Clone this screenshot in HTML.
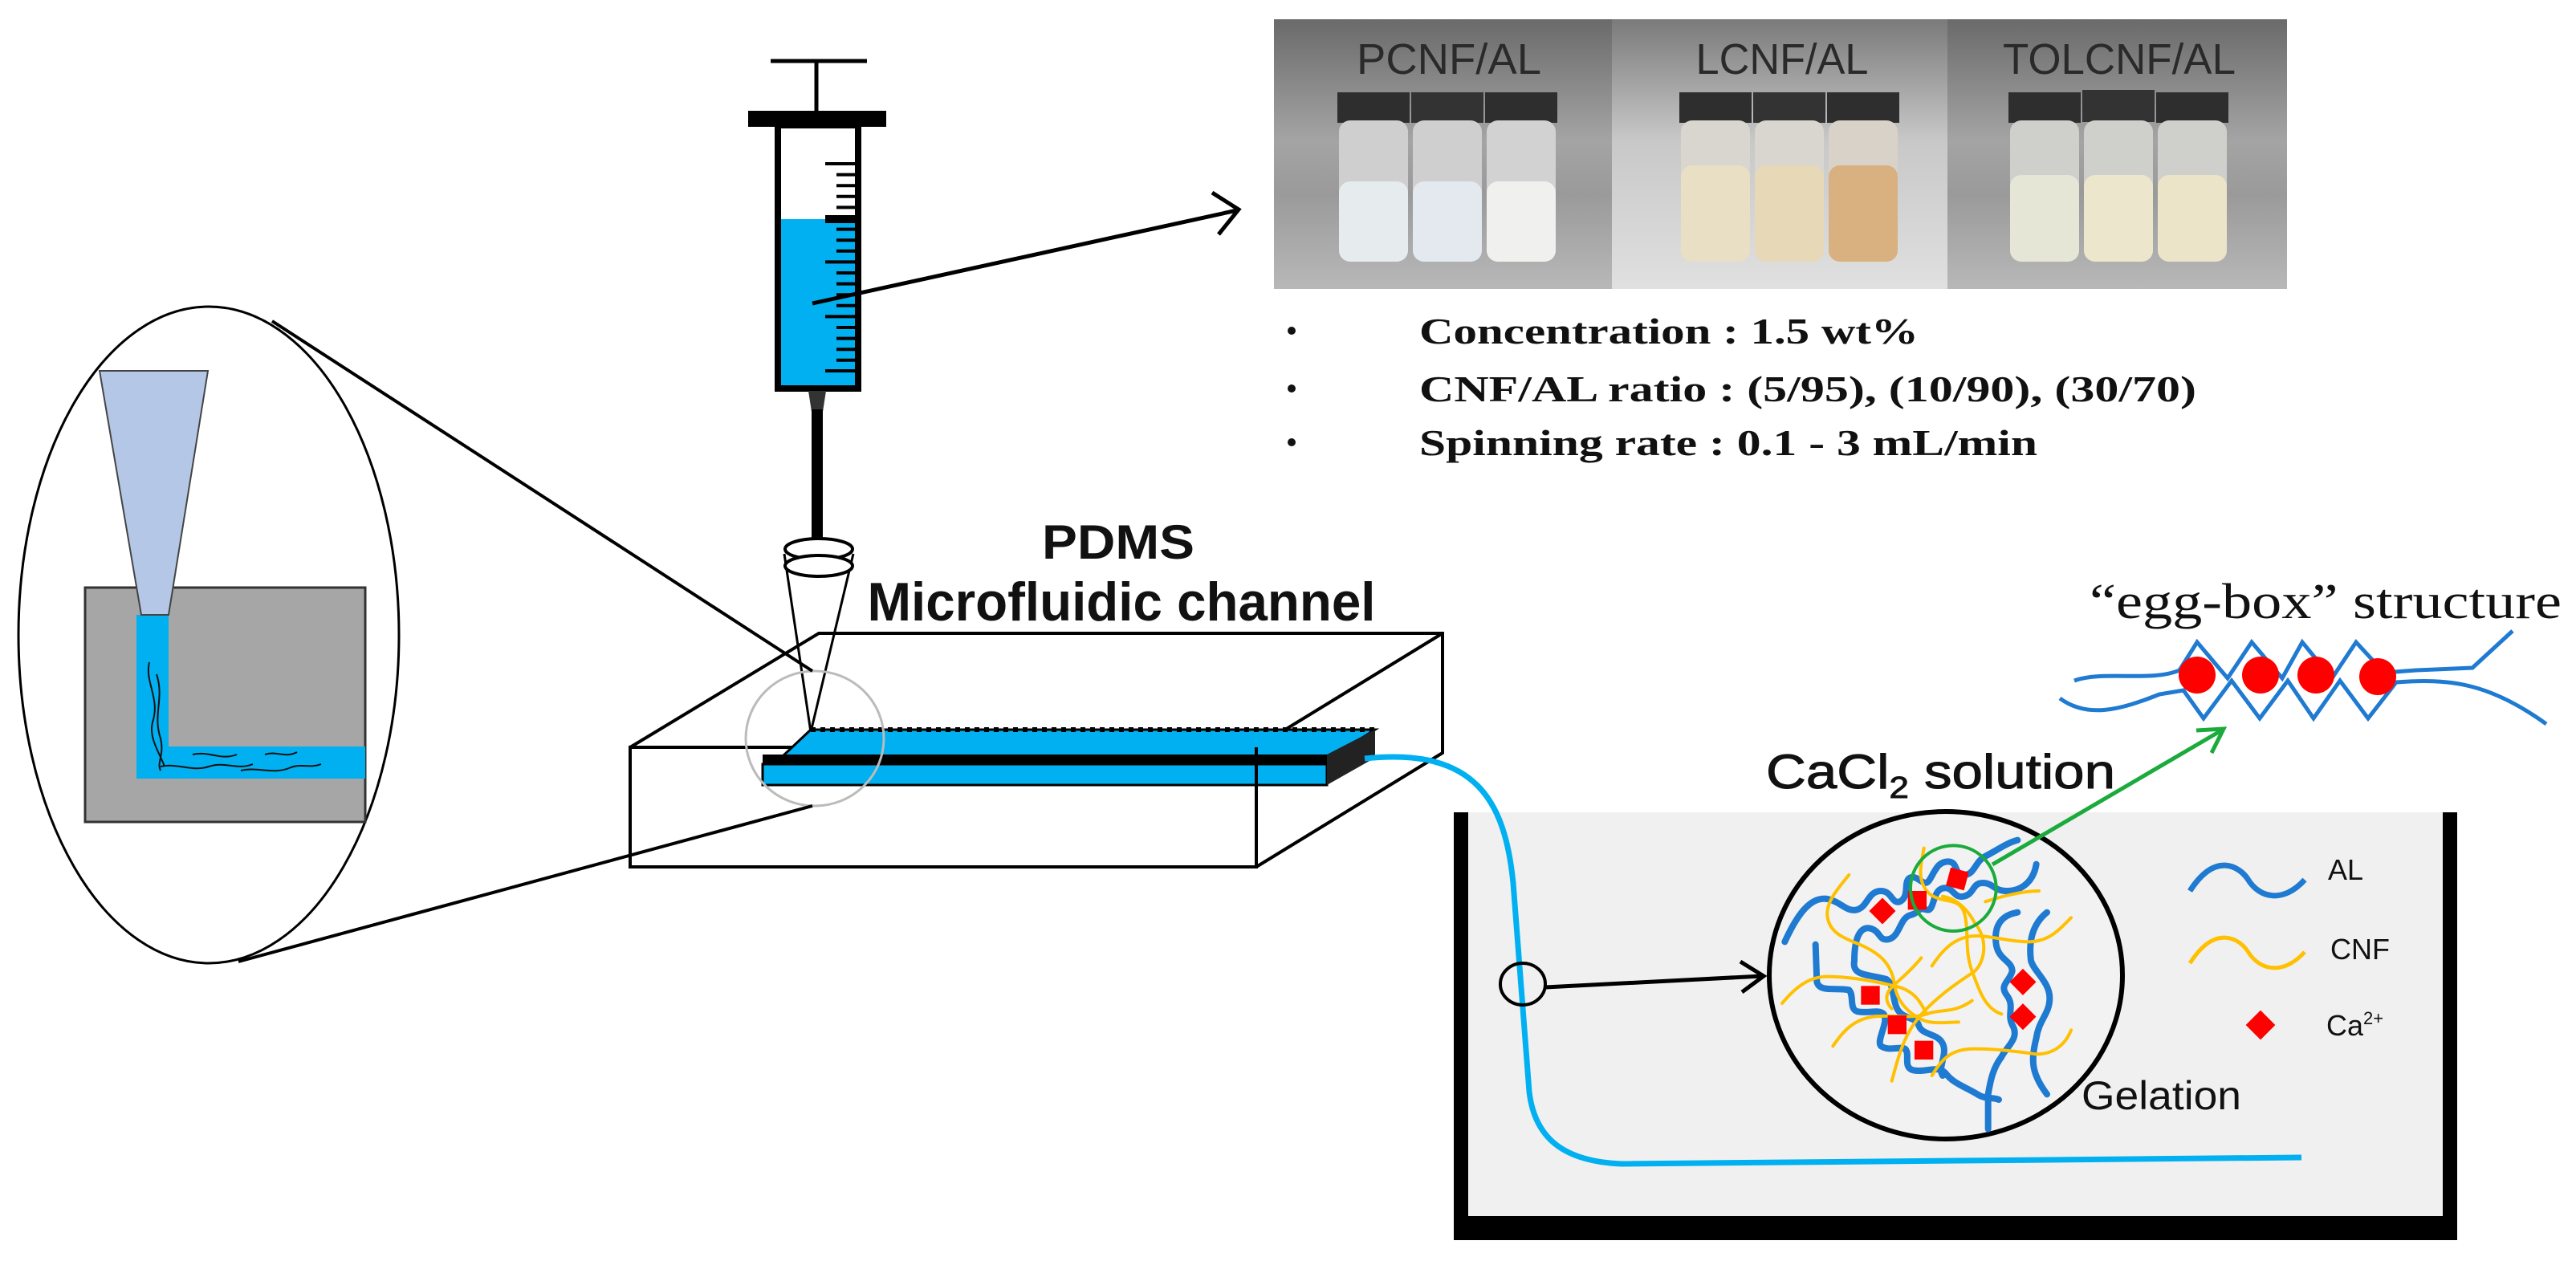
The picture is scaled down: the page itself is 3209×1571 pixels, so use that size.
<!DOCTYPE html>
<html><head><meta charset="utf-8"><style>
html,body{margin:0;padding:0;background:#fff;}
svg{display:block;}
</style></head><body>
<svg width="3209" height="1571" viewBox="0 0 3209 1571" xmlns="http://www.w3.org/2000/svg">
<defs>
<linearGradient id="bg" x1="0" y1="0" x2="0" y2="1">
<stop offset="0" stop-color="#6a6a6a"/><stop offset="0.45" stop-color="#a4a4a4"/><stop offset="0.65" stop-color="#9a9a9a"/><stop offset="1" stop-color="#b8b8b8"/>
</linearGradient>
<linearGradient id="bg2" x1="0" y1="0" x2="0" y2="1">
<stop offset="0" stop-color="#7a7a7a"/><stop offset="0.45" stop-color="#c8c8c8"/><stop offset="1" stop-color="#e0e0e0"/>
</linearGradient>
</defs>

<!-- photo -->
<rect x="1587" y="24" width="421" height="336" fill="url(#bg)"/>
<rect x="2008" y="24" width="418" height="336" fill="url(#bg2)"/>
<rect x="2426" y="24" width="423" height="336" fill="url(#bg)"/>
<g font-family="Liberation Sans Narrow, Liberation Sans, sans-serif" font-size="54" fill="#2a2a2a" text-anchor="middle">
<text x="1805" y="92" textLength="230" lengthAdjust="spacingAndGlyphs">PCNF/AL</text>
<text x="2220" y="92" textLength="215" lengthAdjust="spacingAndGlyphs">LCNF/AL</text>
<text x="2640" y="92" textLength="290" lengthAdjust="spacingAndGlyphs">TOLCNF/AL</text>
</g>
<g>
<rect x="1666" y="115" width="90" height="38" fill="#2e2e2e"/><rect x="1758" y="115" width="90" height="38" fill="#333"/><rect x="1850" y="115" width="90" height="38" fill="#2e2e2e"/>
<rect x="1668" y="150" width="86" height="176" rx="14" fill="#cfcfcf"/><rect x="1760" y="150" width="86" height="176" rx="14" fill="#cfcfcf"/><rect x="1852" y="150" width="86" height="176" rx="14" fill="#d2d2d2"/>
<rect x="1668" y="226" width="86" height="100" rx="14" fill="#e6ebee"/><rect x="1760" y="226" width="86" height="100" rx="14" fill="#e3e9ee"/><rect x="1852" y="226" width="86" height="100" rx="14" fill="#f0f0ee"/>
<rect x="2092" y="115" width="90" height="38" fill="#2e2e2e"/><rect x="2184" y="115" width="90" height="38" fill="#333"/><rect x="2276" y="115" width="90" height="38" fill="#2e2e2e"/>
<rect x="2094" y="150" width="86" height="176" rx="14" fill="#d8d6cf"/><rect x="2186" y="150" width="86" height="176" rx="14" fill="#d8d6cf"/><rect x="2278" y="150" width="86" height="176" rx="14" fill="#d8d2c8"/>
<rect x="2094" y="206" width="86" height="120" rx="14" fill="#e9dfc4"/><rect x="2186" y="206" width="86" height="120" rx="14" fill="#e7d9b8"/><rect x="2278" y="206" width="86" height="120" rx="14" fill="#d9b080"/>
<rect x="2502" y="115" width="90" height="38" fill="#2e2e2e"/><rect x="2594" y="112" width="90" height="40" fill="#333"/><rect x="2686" y="115" width="90" height="38" fill="#2e2e2e"/>
<rect x="2504" y="150" width="86" height="176" rx="14" fill="#cfcfcc"/><rect x="2596" y="150" width="86" height="176" rx="14" fill="#cfcfcc"/><rect x="2688" y="150" width="86" height="176" rx="14" fill="#cfcfcc"/>
<rect x="2504" y="218" width="86" height="108" rx="14" fill="#e6e6d6"/><rect x="2596" y="218" width="86" height="108" rx="14" fill="#ece6cc"/><rect x="2688" y="218" width="86" height="108" rx="14" fill="#ebe4c8"/>
</g>

<!-- bullets -->
<g font-family="Liberation Serif, serif" font-weight="bold" font-size="46" fill="#111">
<circle cx="1609" cy="412" r="5"/><circle cx="1609" cy="484" r="5"/><circle cx="1609" cy="551" r="5"/>
<text x="1768" y="428" textLength="622" lengthAdjust="spacingAndGlyphs">Concentration : 1.5 wt%</text>
<text x="1768" y="500" textLength="968" lengthAdjust="spacingAndGlyphs">CNF/AL ratio : (5/95), (10/90), (30/70)</text>
<text x="1768" y="567" textLength="770" lengthAdjust="spacingAndGlyphs">Spinning rate : 0.1 - 3 mL/min</text>
</g>

<!-- syringe -->
<g stroke="#000" fill="none">
<line x1="960" y1="76" x2="1080" y2="76" stroke-width="5"/>
<line x1="1017" y1="76" x2="1017" y2="140" stroke-width="5"/>
<rect x="932" y="138" width="172" height="20" fill="#000" stroke="none"/>
<rect x="969" y="273" width="100" height="211" fill="#00b0f0" stroke="none"/>
<rect x="969" y="156" width="100" height="328" stroke-width="8"/>
<rect x="1028" y="268" width="38" height="10" fill="#000" stroke="none"/>
<path d="M1066 204h-38M1066 217.6h-24M1066 231.2h-24M1066 244.8h-24M1066 258.4h-24M1066 285.6h-24M1066 299.2h-24M1066 312.8h-24M1066 326.4h-38M1066 340h-24M1066 353.6h-24M1066 367.2h-24M1066 380.8h-24M1066 394.4h-38M1066 408h-24M1066 421.6h-24M1066 435.2h-24M1066 448.8h-24M1066 462h-38" stroke-width="4"/>
<path d="M1007 487 L1011 513 L1025 513 L1029 487Z" fill="#333" stroke="none"/>
<line x1="1018" y1="510" x2="1018" y2="672" stroke-width="14"/>
<path d="M977 690 L1010 912 L1063 690" stroke-width="3"/>
<ellipse cx="1020" cy="684" rx="42" ry="13" fill="#fff" stroke-width="4"/>
<ellipse cx="1020" cy="705" rx="42" ry="13" fill="#fff" stroke-width="4"/>
<line x1="1012" y1="378" x2="1541" y2="262" stroke-width="5"/>
<path d="M1510 240 L1543 261 L1518 292" stroke-width="5"/>
</g>

<!-- chip -->
<g stroke="#000" stroke-width="4" fill="none">
<path d="M785 931 L1020 789 L1797 789 L1797 938 L1565 1080"/>
<path d="M1565 931 L1797 789"/>
<rect x="785" y="931" width="780" height="149"/>
</g>
<!-- channel -->
<path d="M1010 909 L1713 909 L1660 942 L975 942 Z" fill="#00b0f0" stroke="#000" stroke-width="3"/>
<path d="M1010 909 h703" stroke="#000" stroke-width="6" stroke-dasharray="6 6"/>
<rect x="950" y="940" width="703" height="12" fill="#000"/>
<rect x="950" y="952" width="703" height="26" fill="#00b0f0" stroke="#000" stroke-width="3"/>
<path d="M1653 940 L1713 909 L1713 944 L1653 978 Z" fill="#222"/>
<line x1="1565" y1="931" x2="1565" y2="1080" stroke="#000" stroke-width="4"/>
<ellipse cx="1015" cy="920" rx="86" ry="84" fill="none" stroke="#bbb" stroke-width="3"/>
<g font-family="Liberation Sans, sans-serif" font-weight="bold" fill="#111" text-anchor="middle">
<text x="1393" y="696" font-size="60" textLength="190" lengthAdjust="spacingAndGlyphs">PDMS</text>
<text x="1397" y="773" font-size="68" textLength="633" lengthAdjust="spacingAndGlyphs">Microfluidic channel</text>
</g>

<!-- zoom ellipse -->
<ellipse cx="260" cy="791" rx="237" ry="409" fill="none" stroke="#000" stroke-width="3"/>
<line x1="339" y1="400" x2="1012" y2="836" stroke="#000" stroke-width="4"/>
<line x1="297" y1="1198" x2="1012" y2="1004" stroke="#000" stroke-width="4"/>
<rect x="106" y="732" width="349" height="292" fill="#a6a6a6" stroke="#333" stroke-width="3"/>
<path d="M170 766 H210 V930 H455 V970 H170 Z" fill="#00b0f0"/>
<path d="M124 462 L259 462 L210 766 L176 766 Z" fill="#b4c7e7" stroke="#444" stroke-width="2"/>
<g stroke="#111" stroke-width="2" fill="none">
<path d="M186 825 C180 850 200 870 190 900 C185 920 200 940 205 955"/>
<path d="M195 840 C205 870 190 890 200 920 C205 940 195 950 200 960"/>
<path d="M200 955 C220 950 240 962 260 955 C280 948 295 960 315 952"/>
<path d="M240 940 C260 935 275 948 295 940"/>
<path d="M300 960 C320 955 340 965 360 957 C375 950 385 958 400 952"/>
<path d="M330 940 C345 935 355 945 370 937"/>
</g>

<!-- bath -->
<path d="M1811 1012 V1545 H3061 V1012 H3043 V1515 H1829 V1012 Z" fill="#000"/>
<rect x="1829" y="1012" width="1214" height="503" fill="#f0f0f0"/>
<path d="M1700 945 C1840 930 1875 1000 1885 1100 L1905 1360 C1912 1420 1950 1447 2020 1450 L2867 1442" fill="none" stroke="#00b0f0" stroke-width="7"/>
<ellipse cx="1897" cy="1226" rx="28" ry="26" fill="none" stroke="#000" stroke-width="4"/>
<line x1="1925" y1="1230" x2="2195" y2="1216" stroke="#000" stroke-width="5"/>
<path d="M2168 1198 L2197 1216 L2170 1236" fill="none" stroke="#000" stroke-width="5"/>
<text x="2200" y="982" font-family="Liberation Sans, sans-serif" font-size="60" fill="#111" stroke="#111" stroke-width="1" textLength="435" lengthAdjust="spacingAndGlyphs">CaCl<tspan font-size="38" dy="12">2</tspan><tspan dy="-12"> solution</tspan></text>

<!-- big circle network -->
<ellipse cx="2424" cy="1215" rx="220" ry="204" fill="#f2f2f2" stroke="#000" stroke-width="6"/>
<g transform="translate(2200,1010) scale(0.33333)" fill="none" stroke-linecap="round">
<g stroke="#1f7ad1" stroke-width="24">
<path d="M70 490 C120 380 170 320 230 330 C280 340 300 380 340 370 C380 360 380 300 430 300 C470 300 470 350 500 340 C540 320 510 260 540 250 C570 240 590 290 610 260 C630 230 640 190 680 190 C720 190 700 240 740 240 C780 240 780 190 820 170 C860 150 900 120 940 110"/>
<path d="M330 560 C330 480 350 430 390 440 C430 450 420 490 460 480 C500 470 500 400 540 390 C580 380 560 360 600 370 C630 380 620 300 660 290 C700 280 700 330 740 320 C780 310 770 270 810 270 C850 270 850 300 900 300 C960 300 1000 260 1010 200"/>
<path d="M185 500 L190 640 C200 680 260 660 310 670 C330 690 310 740 340 750 C380 760 420 740 440 760 C460 790 410 860 430 880 C460 900 500 880 520 890 C540 910 510 960 550 970 C600 980 640 950 670 980 C700 1020 740 1030 790 1060 C820 1080 850 1070 870 1080"/>
<path d="M330 560 C320 620 380 610 450 630 C480 650 470 700 490 740 C510 780 560 770 570 800 C580 840 640 830 660 870 C680 910 640 960 660 990"/>
<path d="M940 380 C880 390 850 430 860 500 C870 560 920 560 920 600 C910 640 870 650 900 690 C930 730 900 760 920 800 C950 850 900 880 880 920 C850 960 840 1000 830 1060 L830 1190"/>
<path d="M1050 380 C1000 420 980 480 990 560 C1000 600 1060 640 1060 700 C1060 760 1020 780 1010 850 C990 930 990 980 1050 1060"/>
</g>
<g stroke="#ffc000" stroke-width="12">
<path d="M310 240 C260 300 220 350 230 400 C240 460 300 480 350 500 C420 530 470 570 480 650 C490 720 540 760 580 780 C620 800 680 790 720 790"/>
<path d="M60 720 C110 660 160 620 230 620 C320 620 420 640 500 660 C560 680 580 720 600 760"/>
<path d="M250 880 C290 820 330 780 400 770 C480 760 540 780 600 760 C650 740 700 760 770 710"/>
<path d="M580 550 C540 600 500 630 470 660 C440 690 450 720 470 740"/>
<path d="M470 1010 C500 900 520 820 600 740 C660 680 720 640 780 600 C820 560 830 480 780 420 C760 380 720 330 660 320"/>
<path d="M620 580 C660 520 700 480 760 470 C820 460 900 490 980 490 C1060 490 1100 440 1140 400"/>
<path d="M620 990 C660 920 700 890 780 890 C860 890 940 900 1010 910 C1080 910 1120 870 1140 820"/>
<path d="M590 140 C580 200 560 260 610 310 C660 350 720 320 740 380 C760 440 740 520 770 600 C800 680 820 740 880 760"/>
<path d="M820 340 C880 320 960 300 1020 300"/>
</g>
<g fill="#ff0000">
<rect x="400" y="340" width="70" height="70" transform="rotate(45 435 375)"/>
<rect x="530" y="300" width="70" height="70"/>
<rect x="680" y="220" width="70" height="70" transform="rotate(15 715 255)"/>
<rect x="355" y="655" width="70" height="70"/>
<rect x="455" y="765" width="70" height="70"/>
<rect x="555" y="860" width="70" height="70"/>
<rect x="925" y="605" width="70" height="70" transform="rotate(45 960 640)"/>
<rect x="925" y="735" width="70" height="70" transform="rotate(45 960 770)"/>
</g>
<circle cx="700" cy="290" r="160" stroke="#1aab3c" stroke-width="12"/>
</g>
<line x1="2482" y1="1077" x2="2769" y2="909" stroke="#1aab3c" stroke-width="5"/>
<path d="M2736 910 L2770 908 L2755 938" fill="none" stroke="#1aab3c" stroke-width="5"/>
<text x="2593" y="1382" font-family="Liberation Sans, sans-serif" font-size="50" fill="#111" textLength="199" lengthAdjust="spacingAndGlyphs">Gelation</text>

<!-- legend -->
<path d="M2728 1110 C2760 1060 2790 1080 2800 1095 C2815 1120 2845 1125 2871 1096" fill="none" stroke="#1f7ad1" stroke-width="7"/>
<path d="M2728 1200 C2760 1150 2790 1170 2800 1185 C2815 1210 2845 1215 2871 1186" fill="none" stroke="#ffc000" stroke-width="5"/>
<rect x="2803" y="1264" width="26" height="26" fill="#ff0000" transform="rotate(45 2816 1277)"/>
<g font-family="Liberation Sans, sans-serif" font-size="36" fill="#111">
<text x="2900" y="1096">AL</text>
<text x="2903" y="1195">CNF</text>
<text x="2898" y="1290">Ca<tspan font-size="22" dy="-14">2+</tspan></text>
</g>

<!-- egg-box -->
<text x="2603" y="770" font-family="Liberation Serif, serif" font-size="62" fill="#111" textLength="588" lengthAdjust="spacingAndGlyphs">“egg-box”  structure</text>
<g fill="none" stroke="#1f7ad1" stroke-width="5">
<path d="M2584 848 C2620 835 2680 850 2715 835 L2737 800 L2775 845 L2805 800 L2843 845 L2868 800 L2905 845 L2935 800 L2970 838 L3010 835 L3080 832 L3130 786"/>
<path d="M2566 870 C2600 895 2640 885 2690 865 L2720 860 L2745 895 L2780 848 L2815 895 L2850 848 L2882 895 L2915 848 L2950 895 L2985 850 C3050 845 3100 850 3172 902"/>
</g>
<g fill="#ff0000">
<circle cx="2737" cy="841" r="23"/><circle cx="2816" cy="841" r="23"/><circle cx="2885" cy="841" r="23"/><circle cx="2962" cy="843" r="23"/>
</g>
</svg>
</body></html>
